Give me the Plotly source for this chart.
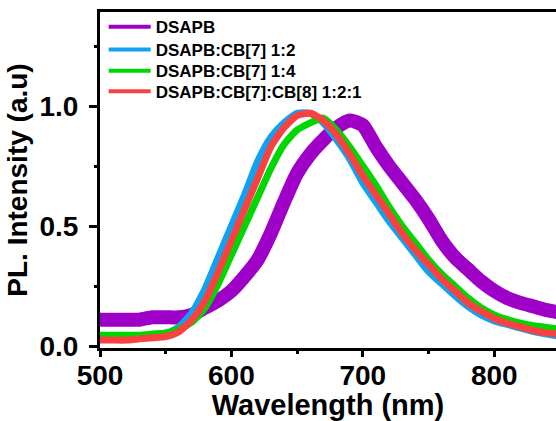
import plotly.graph_objects as go

wavelength = [500, 510, 520, 530, 540, 550, 560, 570, 580, 590, 600, 610, 620, 630, 640,
              650, 660, 670, 680, 690, 700, 710, 720, 730, 740, 750, 760, 770, 780, 790,
              800, 810, 820, 830, 840, 850]

dsapb = [0.11, 0.11, 0.11, 0.11, 0.12, 0.12, 0.12, 0.13, 0.16, 0.19, 0.23, 0.29, 0.36, 0.47, 0.60,
         0.72, 0.80, 0.86, 0.91, 0.94, 0.92, 0.83, 0.75, 0.68, 0.61, 0.53, 0.44, 0.37, 0.32, 0.27,
         0.23, 0.20, 0.18, 0.165, 0.15, 0.14]

cb7_12 = [0.03, 0.03, 0.03, 0.035, 0.04, 0.05, 0.08, 0.14, 0.24, 0.37, 0.50, 0.63, 0.77, 0.87, 0.93,
          0.97, 0.97, 0.93, 0.86, 0.78, 0.68, 0.60, 0.52, 0.45, 0.38, 0.31, 0.26, 0.21, 0.165, 0.13,
          0.105, 0.09, 0.075, 0.06, 0.05, 0.04]

cb7_14 = [0.045, 0.045, 0.045, 0.045, 0.05, 0.055, 0.07, 0.10, 0.16, 0.26, 0.38, 0.50, 0.62, 0.74, 0.84,
          0.90, 0.93, 0.95, 0.90, 0.83, 0.75, 0.67, 0.58, 0.50, 0.43, 0.36, 0.30, 0.25, 0.20, 0.16,
          0.13, 0.11, 0.095, 0.085, 0.078, 0.07]

cb7_cb8 = [0.025, 0.025, 0.025, 0.03, 0.035, 0.04, 0.06, 0.11, 0.19, 0.31, 0.44, 0.57, 0.70, 0.83, 0.91,
           0.96, 0.97, 0.94, 0.88, 0.80, 0.71, 0.63, 0.55, 0.47, 0.40, 0.34, 0.28, 0.23, 0.18, 0.145,
           0.115, 0.095, 0.08, 0.065, 0.055, 0.05]

names = ["DSAPB", "DSAPB:CB[7] 1:2", "DSAPB:CB[7] 1:4", "DSAPB:CB[7]:CB[8] 1:2:1"]
series = [dsapb, cb7_12, cb7_14, cb7_cb8]
colors = ["#9E00C8", "#10A2F2", "#00D600", "#F84242"]
widths = [14, 7, 7, 7]
legend_ids = ["legend", "legend2", "legend3", "legend4"]
legend_y = [0.955, 0.887, 0.824, 0.7628]

FONT = "Liberation Sans, Arial, sans-serif"

fig = go.Figure()
for name, ys, c, w in zip(names, series, colors, widths):
    fig.add_trace(go.Scatter(x=wavelength, y=ys, mode="lines", name=name,
                             line=dict(color=c, width=w, shape="spline", smoothing=0.6),
                             showlegend=False, legend="legend5"))
for name, c, lid in zip(names, colors, legend_ids):
    fig.add_trace(go.Scatter(x=[None], y=[None], mode="lines", name=name,
                             line=dict(color=c, width=4), showlegend=True, legend=lid))

legend_common = dict(xanchor="left", yanchor="middle", bgcolor="rgba(0,0,0,0)",
                     font=dict(size=17, family=FONT, weight="bold", color="black"),
                     itemwidth=42, borderwidth=0)
layout_legends = {}
for lid, ly in zip(legend_ids, legend_y):
    layout_legends[lid] = dict(x=0.008, y=ly, **legend_common)
layout_legends["legend5"] = dict(visible=False)

fig.update_layout(
    width=556, height=421,
    margin=dict(l=100, r=0, t=12, b=73),
    plot_bgcolor="white", paper_bgcolor="white",
    font=dict(family=FONT, color="black", weight="bold"),
    showlegend=True,
    **layout_legends,
)
fig.update_xaxes(
    range=[500, 847], showgrid=False, zeroline=False,
    showline=True, linecolor="black", linewidth=3, mirror=True,
    ticks="outside", ticklen=6, tickwidth=3, tickcolor="black",
    tickmode="array", tickvals=[500, 600, 700, 800], ticktext=["500", "600", "700", "800"],
    tickfont=dict(size=28, family=FONT, weight="bold"),
    ticklabelstandoff=-6,
    minor=dict(ticks="outside", ticklen=3, tickwidth=3, dtick=50, tick0=500, showgrid=False),
    title=dict(text="Wavelength (nm)", font=dict(size=29, family=FONT, weight="bold"), standoff=0),
)
fig.update_yaxes(
    range=[-0.008, 1.392], showgrid=False, zeroline=False,
    showline=True, linecolor="black", linewidth=3, mirror=False,
    ticks="outside", ticklen=8, tickwidth=3, tickcolor="black",
    tickmode="array", tickvals=[0, 0.5, 1.0], ticktext=["0.0", "0.5", "1.0"],
    tickfont=dict(size=28, family=FONT, weight="bold"),
    ticklabelstandoff=5,
    minor=dict(ticks="outside", ticklen=3, tickwidth=3, dtick=0.25, tick0=0, showgrid=False),
    title=dict(text="PL. Intensity (a.u)", font=dict(size=28, family=FONT, weight="bold"), standoff=4),
)

fig.write_html("out.html")
